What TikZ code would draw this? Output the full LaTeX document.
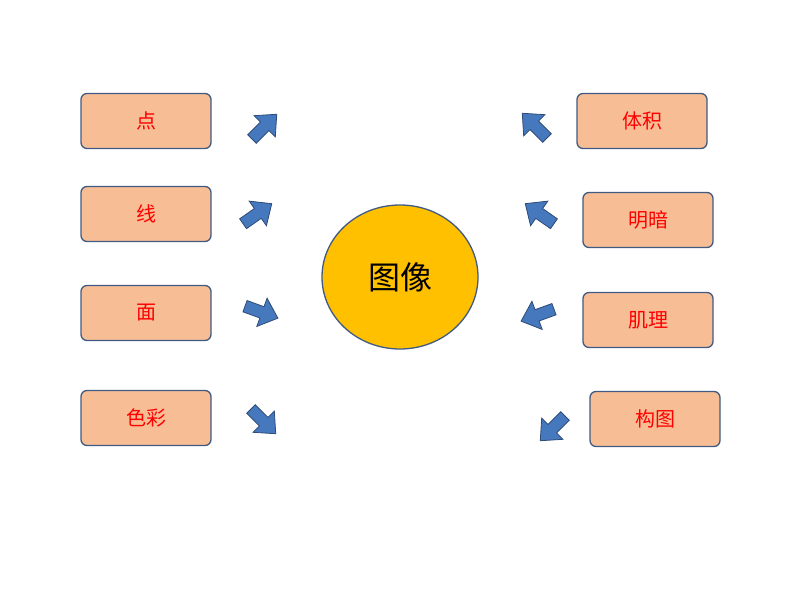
\documentclass[tikz,border=0pt]{standalone}
\usepackage{fontspec}
\usetikzlibrary{shapes.geometric}
\newfontfamily\cjk{Noto Sans CJK SC}
\definecolor{boxfill}{RGB}{247,190,150}
\definecolor{boxline}{RGB}{65,90,130}
\definecolor{arrfill}{RGB}{70,120,190}
\definecolor{arrline}{RGB}{45,75,120}
\definecolor{gold}{RGB}{255,192,0}
\tikzset{
  lbox/.style={draw=boxline,line width=1.3pt,fill=boxfill,rounded corners=6pt,minimum width=130pt,minimum height=55pt,text=red,font=\cjk\fontsize{20}{20}\selectfont},
  blk/.pic={\draw[fill=arrfill,draw=arrline,line width=0.8pt] (-17,-6)--(1,-6)--(1,-15)--(18,0)--(1,15)--(1,6)--(-17,6)--cycle;}
}
\begin{document}
\begin{tikzpicture}[x=1pt,y=-1pt]
\useasboundingbox (0,0) rectangle (794,596);
\node[lbox] (a1) at (146,121) {点};
\node[lbox] (a2) at (146,214) {线};
\node[lbox] (a3) at (146,313) {面};
\node[lbox] (a4) at (146,418) {色彩};
\node[lbox] (b1) at (642,121) {体积};
\node[lbox] (b2) at (648,220) {明暗};
\node[lbox] (b3) at (648,320) {肌理};
\node[lbox] (b4) at (655,419) {构图};
\node[ellipse,draw=boxline,line width=1.3pt,fill=gold,minimum width=156pt,minimum height=144pt,inner sep=0pt,font=\cjk\fontsize{32}{32}\selectfont] (c) at (400,277) {图像};
\pic[rotate=45] at (264,127) {blk};
\pic[rotate=35] at (257,214) {blk};
\pic[rotate=-20] at (261,312) {blk};
\pic[rotate=-45] at (263,421) {blk};
\pic[rotate=135] at (535,126) {blk};
\pic[rotate=145] at (540,214) {blk};
\pic[rotate=200] at (538,315) {blk};
\pic[rotate=225] at (553,428) {blk};
\end{tikzpicture}
\end{document}
